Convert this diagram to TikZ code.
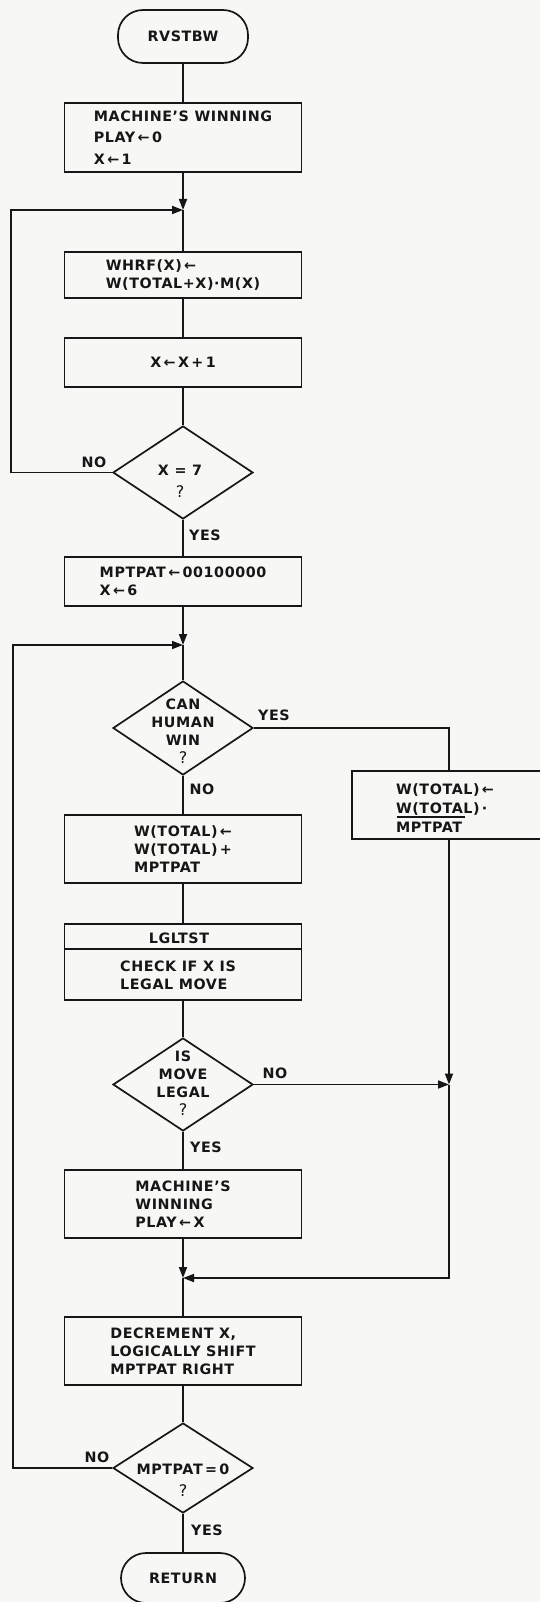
\documentclass[tikz,border=0pt]{standalone}
\usepackage{fontspec}
\setmainfont{DejaVu Sans}[LetterSpace=4]
\usetikzlibrary{shapes.geometric,arrows.meta}
\definecolor{paper}{RGB}{247,247,245}
\definecolor{ink}{RGB}{22,22,22}
\newcommand\flowfont{\fontsize{14.3}{17.8}\selectfont\bfseries}
\newcommand\qmark{{\mdseries\fontsize{16}{17.8}\selectfont ?}}
\begin{document}
\begin{tikzpicture}[x=1pt,y=-1pt,
  every node/.style={font=\flowfont,text=ink},
  procbox/.style={draw=ink,line width=1.7pt,rectangle,minimum width=237pt,inner sep=0pt,align=left},
  termbox/.style={draw=ink,line width=1.7pt,rectangle,rounded corners=25pt,inner sep=0pt},
  decbox/.style={draw=ink,line width=1.7pt,diamond,minimum width=140pt,minimum height=93pt,inner sep=0pt},
  txt/.style={align=center,inner sep=0pt},
  lbl/.style={inner sep=0pt},
  flow/.style={draw=ink,line width=1.7pt},
  arr/.style={flow,-{Triangle[length=11pt,width=8pt]}}
]
\useasboundingbox (0,0) rectangle (540,1602);
\fill[paper] (0,0) rectangle (540,1602);

% nodes
\node[termbox,minimum width=130pt,minimum height=53pt] (start) at (183,36.5) {RVSTBW};
\node[procbox,minimum height=69pt] (b1) at (183,137.5) {MACHINE'S WINNING\\[3.5pt]PLAY\,←\,0\\[3.5pt]X\,←\,1};
\coordinate (j1) at (183,210);
\node[procbox,minimum height=46pt] (b2) at (183,275) {WHRF(X)\,←\\[1pt]W(TOTAL+X)·M(X)};
\node[procbox,minimum height=49pt] (b3) at (183,362.5) {X\,←\,X\,+\,1};
\node[decbox] (d1) at (183,472.5) {};
\node[txt] (d1t) at (180,481) {X = 7\\[4pt]\qmark};
\node[procbox,minimum height=49pt] (b4) at (183,581.5) {MPTPAT\,←\,00100000\\X\,←\,6};
\coordinate (j2) at (183,645);
\node[decbox,minimum height=94pt] (d2) at (183,728) {};
\node[txt] (d2t) at (183,731) {CAN\\HUMAN\\WIN\\\qmark};
\node[procbox,minimum height=68pt] (b5) at (183,849) {W(TOTAL)\,←\\W(TOTAL)\,+\\MPTPAT};
\node[procbox,minimum width=194pt,minimum height=68pt] (rb) at (449,805) {};
\node[txt,align=left] (rbt) at (445,808) {W(TOTAL)\,←\\[1pt]W(TOTAL)\,·\\[1pt]MPTPAT};
\node[procbox,minimum height=76pt] (b6) at (183,962) {};
\node[txt] (b6a) at (179,938) {LGLTST};
\node[txt,align=left] (b6b) at (178,975) {CHECK IF X IS\\LEGAL MOVE};
\node[decbox] (d3) at (183,1084.5) {};
\node[txt] (d3t) at (183,1083) {IS\\MOVE\\LEGAL\\\qmark};
\coordinate (rj) at (449,1084.5);
\node[procbox,minimum height=68pt] (b7) at (183,1204) {MACHINE'S\\WINNING\\PLAY\,←\,X};
\coordinate (j3) at (183,1278);
\node[procbox,minimum height=68pt] (b8) at (183,1351) {DECREMENT X,\\LOGICALLY SHIFT\\MPTPAT RIGHT};
\node[decbox,minimum height=90pt] (d4) at (183,1468) {};
\node[txt] (d4t) at (183,1480) {MPTPAT\,=\,0\\[4pt]\qmark};
\node[termbox,minimum width=124pt,minimum height=50pt] (end) at (183,1578) {RETURN};
\coordinate (lp1) at (11,300);
\coordinate (lp2) at (13,1000);

% labels
\node[lbl] (n1) at (94,462) {NO};
\node[lbl] (y1) at (205,535) {YES};
\node[lbl] (y2) at (274,715) {YES};
\node[lbl] (n2) at (202,789) {NO};
\node[lbl] (n3) at (275,1073) {NO};
\node[lbl] (y3) at (206,1147) {YES};
\node[lbl] (n4) at (97,1457) {NO};
\node[lbl] (y4) at (207,1530) {YES};

% connectors
\draw[flow] (start) -- (b1);
\draw[arr] (b1) -- (j1);
\draw[arr] (d1.west) -| (lp1) |- (j1);
\draw[flow] (j1) -- (b2);
\draw[flow] (b2) -- (b3);
\draw[flow] (b3) -- (d1);
\draw[flow] (d1) -- (b4);
\draw[arr] (b4) -- (j2);
\draw[arr] (d4.west) -| (lp2) |- (j2);
\draw[flow] (j2) -- (d2);
\draw[flow] (d2) -- (b5);
\draw[flow] (d2.east) -| (rb.north);
\draw[arr] (rb.south) -- (rj);
\draw[arr] (d3.east) -- (rj);
\draw[arr] (rj) |- (j3);
\draw[flow] (b5) -- (b6);
\draw[flow] ([yshift=-26pt]b6.north west) -- ([yshift=-26pt]b6.north east);
\draw[flow] (b6) -- (d3);
\draw[flow] (d3) -- (b7);
\draw[arr] (b7) -- (j3);
\draw[flow] (j3) -- (b8);
\draw[flow] (b8) -- (d4);
\draw[flow] (d4) -- (end);
\draw[flow,line width=1.2pt] (397,817) -- (465,817);
\end{tikzpicture}
\end{document}
